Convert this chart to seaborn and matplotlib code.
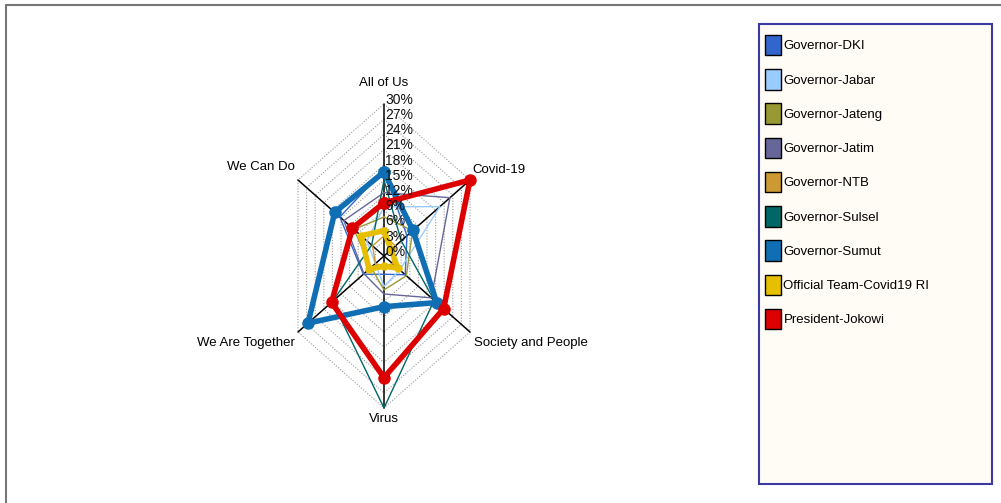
import numpy as np
import matplotlib.pyplot as plt
import seaborn as sns
from matplotlib.patches import Patch, Rectangle
from matplotlib.lines import Line2D

# ------------------------------------------------------------
# data (share of tweets per theme, %)
# ------------------------------------------------------------
categories = ['All of Us', 'Covid-19', 'Society and People', 'Virus',
              'We Are Together', 'We Can Do']

series_names = ['Governor-DKI', 'Governor-Jabar', 'Governor-Jateng', 'Governor-Jatim',
                'Governor-NTB', 'Governor-Sulsel', 'Governor-Sumut',
                'Official Team-Covid19 RI', 'President-Jokowi']

gov_dki = [17.0, 8.0, 7.4, 3.6, 7.2, 15.4]
gov_jabar = [9.7, 19.5, 5.5, 6.0, 3.0, 6.0]
gov_jateng = [7.7, 10.0, 7.8, 6.7, 4.5, 10.5]
gov_jatim = [12.5, 23.0, 16.5, 7.5, 7.0, 14.0]
gov_ntb = [4.0, 4.0, 3.0, 2.0, 3.0, 4.0]
gov_sulsel = [15.0, 6.0, 17.5, 30.0, 18.0, 4.3]
gov_sumut = [16.6, 10.1, 18.4, 10.0, 26.5, 17.2]
official_team = [5.0, 2.5, 4.8, 2.0, 5.2, 8.0]
pres_jokowi = [10.5, 30.0, 20.8, 24.0, 18.3, 11.0]

ticks = [0, 3, 6, 9, 12, 15, 18, 21, 24, 27, 30]
tick_labels = ['0%', '3%', '6%', '9%', '12%', '15%', '18%', '21%', '24%', '27%', '30%']

all_values = [gov_dki, gov_jabar, gov_jateng, gov_jatim, gov_ntb,
              gov_sulsel, gov_sumut, official_team, pres_jokowi]
colors = ['#3366cc', '#99ccff', '#999933', '#666699', '#cc9933',
          '#006666', '#0f6eb4', '#e6c000', '#dd0000']
widths = [1.0, 1.0, 1.0, 1.0, 1.0, 1.0, 4.0, 4.0, 4.0]
marker_sizes = [0, 0, 0, 0, 0, 0, 9, 6, 9]

# ------------------------------------------------------------
# figure setup
# ------------------------------------------------------------
sns.set_style('white')
plt.rcParams['font.family'] = ['Liberation Sans', 'DejaVu Sans']
plt.rcParams['text.color'] = 'black'

fig = plt.figure(figsize=(10.01, 5.03), dpi=100)
ax = fig.add_axes([298 / 1001, 95 / 503, 172 / 1001, 304 / 503])
r_max = 30
ax.set_xlim(-r_max * np.sin(np.pi / 3), r_max * np.sin(np.pi / 3))
ax.set_ylim(-r_max, r_max)
ax.axis('off')

theta = np.deg2rad(np.arange(len(categories)) * 60)
theta_closed = np.append(theta, theta[0])

# hexagonal grid rings
for r in ticks[1:]:
    ax.plot(r * np.sin(theta_closed), r * np.cos(theta_closed),
            color='#9a9a9a', lw=0.8, dashes=(1, 1.5), zorder=1, clip_on=False)

# spokes
for t in theta:
    ax.plot([0, r_max * np.sin(t)], [0, r_max * np.cos(t)],
            color='black', lw=1.1, zorder=2, clip_on=False)

# series
for name, vals, col, lw, ms in zip(series_names, all_values, colors, widths, marker_sizes):
    v = np.append(vals, vals[0])
    sns.lineplot(x=v * np.sin(theta_closed), y=v * np.cos(theta_closed),
                 sort=False, estimator=None, color=col, lw=lw,
                 marker='o' if ms else None, markersize=ms, markeredgewidth=0,
                 ax=ax, zorder=3, clip_on=False)

# tick labels along the first axis
for r, lab in zip(ticks, tick_labels):
    ax.annotate(lab, (0, r), xytext=(1, 3), textcoords='offset points',
                ha='left', va='center', fontsize=10, color='#111111')

# category labels
label_offsets = [(0, 15, 'center'), (2, 7, 'left'), (3, -8, 'left'),
                 (0, -8, 'center'), (-2, -8, 'right'), (-2, 9, 'right')]
for cat, t, (dx, dy, ha) in zip(categories, theta, label_offsets):
    ax.annotate(cat, (r_max * np.sin(t), r_max * np.cos(t)), xytext=(dx, dy),
                textcoords='offset points', ha=ha, va='center', fontsize=9.5)

# legend frame
fig.patches.append(Rectangle((759 / 1001, 19 / 503), 233 / 1001, 460 / 503,
                             transform=fig.transFigure, facecolor='#fffbf5',
                             edgecolor='#3a3aa0', lw=1.5, zorder=0))
handles = [Patch(facecolor=c, edgecolor='black', lw=1.0) for c in colors]
fig.legend(handles, series_names, loc='upper left',
           bbox_to_anchor=(765 / 1001, 468 / 503), frameon=False,
           fontsize=9.5, handlelength=1.2, handleheight=2.0,
           handletextpad=0.2, labelspacing=1.05, borderpad=0, borderaxespad=0)

# outer border (top and left)
fig.lines.append(Line2D([6 / 1001, 1], [498 / 503, 498 / 503], transform=fig.transFigure,
                        color='#777777', lw=1.5))
fig.lines.append(Line2D([6 / 1001, 6 / 1001], [0, 498 / 503], transform=fig.transFigure,
                        color='#777777', lw=1.5))

fig.savefig('out.png', dpi=100)
